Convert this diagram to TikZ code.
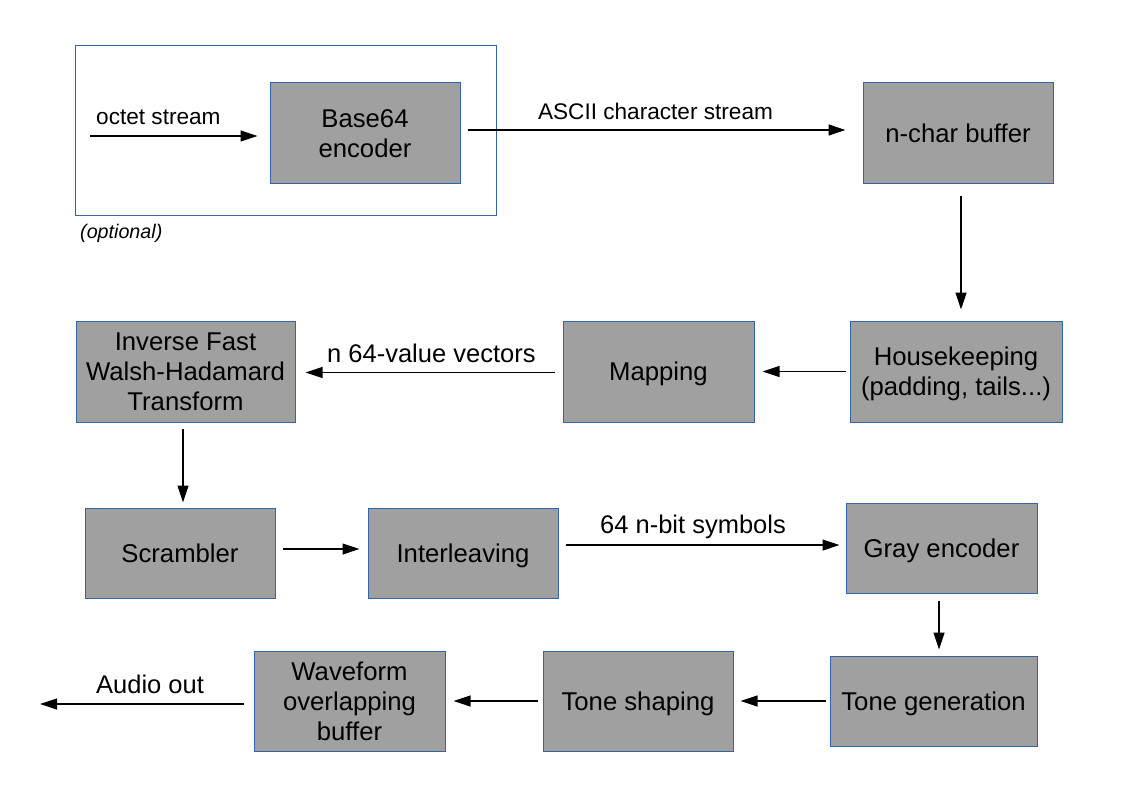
\documentclass[tikz,border=0pt]{standalone}
\usepackage{fontspec}
\setmainfont{Liberation Sans}
\usetikzlibrary{arrows.meta}
\definecolor{boxfill}{HTML}{A0A0A0}
\definecolor{boxline}{HTML}{3465A4}
\tikzset{
  blk/.style={draw=boxline, line width=1pt, fill=boxfill, align=center, inner sep=0pt,
    text depth=0pt, font=\fontsize{25.7}{30}\selectfont},
  arr/.style={line width=1.2pt, -{Triangle[length=17pt,width=11pt]}},
  lbl/.style={inner sep=0pt, font=\fontsize{25.5}{30}\selectfont},
  slbl/.style={inner sep=0pt, font=\fontsize{22.6}{27}\selectfont},
}
\begin{document}
\begin{tikzpicture}[x=1pt,y=-1pt]
\useasboundingbox (0,0) rectangle (1123,794);
\draw[boxline, line width=1pt] (75,46) rectangle (496,216);
\node[inner sep=0pt, anchor=base west, font=\itshape\fontsize{19.7}{24}\selectfont] (opt) at (80,239) {(optional)};

\node[blk, minimum width=190pt, minimum height=101pt] (b64) at (365,133.5) {Base64\\encoder};
\node[blk, minimum width=190pt, minimum height=101pt] (nchar) at (958,133.5) {n-char buffer};
\node[blk, minimum width=212pt, minimum height=101pt] (hk) at (956,371.5) {Housekeeping\\(padding, tails...)};
\node[blk, minimum width=191pt, minimum height=101pt] (map) at (658.5,371.5) {Mapping};
\node[blk, minimum width=219pt, minimum height=101pt] (ifw) at (185.5,371.5) {Inverse Fast\\Walsh-Hadamard\\Transform};
\node[blk, minimum width=190pt, minimum height=90pt] (scr) at (180,553) {Scrambler};
\node[blk, minimum width=190pt, minimum height=90pt] (int) at (463,553) {Interleaving};
\node[blk, minimum width=191pt, minimum height=90pt] (gray) at (941.5,548) {Gray encoder};
\node[blk, minimum width=207pt, minimum height=90pt] (tg) at (933.5,701) {Tone generation};
\node[blk, minimum width=190pt, minimum height=100pt] (ts) at (638,701) {Tone shaping};
\node[blk, minimum width=191pt, minimum height=100pt] (wf) at (349.5,701) {Waveform\\overlapping\\buffer};

\coordinate (in) at (90,136);
\coordinate (out) at (40,704);

\draw[arr, shorten >=12pt] (in) -- (in -| b64.west);
\node[slbl, anchor=base west] (loct) at (96,125) {octet stream};

\draw[arr, shorten <=7pt, shorten >=17pt] ([yshift=3.5pt]b64.east) -- ([yshift=3.5pt]nchar.west);
\node[slbl, anchor=base] (lascii) at (655.5,120) {ASCII character stream};

\draw[arr, shorten <=12pt, shorten >=11pt] ([xshift=3pt]nchar.south) -- ([xshift=3pt]nchar.south |- hk.north);
\draw[arr, shorten <=4pt, shorten >=8pt] (hk.west) -- (map.east);
\draw[arr, shorten <=8pt, shorten >=10pt] ([yshift=-1pt]map.west) -- ([yshift=-1pt]ifw.east);
\node[lbl, anchor=base west] (lvec) at (327,362) {n 64-value vectors};

\draw[arr, shorten <=6pt, shorten >=5pt] ([xshift=-2.5pt]ifw.south) -- ([xshift=-2.5pt]ifw.south |- scr.north);
\draw[arr, shorten <=7pt, shorten >=8pt] ([yshift=4pt]scr.east) -- ([yshift=4pt]int.west);
\draw[arr, shorten <=7pt, shorten >=6pt] ([yshift=8pt]int.east) -- ([yshift=8pt]int.east -| gray.west);
\node[lbl, anchor=base west] (lsym) at (600,533) {64 n-bit symbols};

\draw[arr, shorten <=7pt, shorten >=6pt] ([xshift=-2.5pt]gray.south) -- ([xshift=-2.5pt]gray.south |- tg.north);
\draw[arr, shorten <=4pt, shorten >=7pt] (tg.west) -- (ts.east);
\draw[arr, shorten <=5pt, shorten >=8pt] (ts.west) -- (wf.east);
\draw[arr, shorten <=10pt] ([yshift=-3pt]wf.west) -- (out);
\node[lbl, anchor=base west] (laud) at (96,693) {Audio out};
\end{tikzpicture}
\end{document}
